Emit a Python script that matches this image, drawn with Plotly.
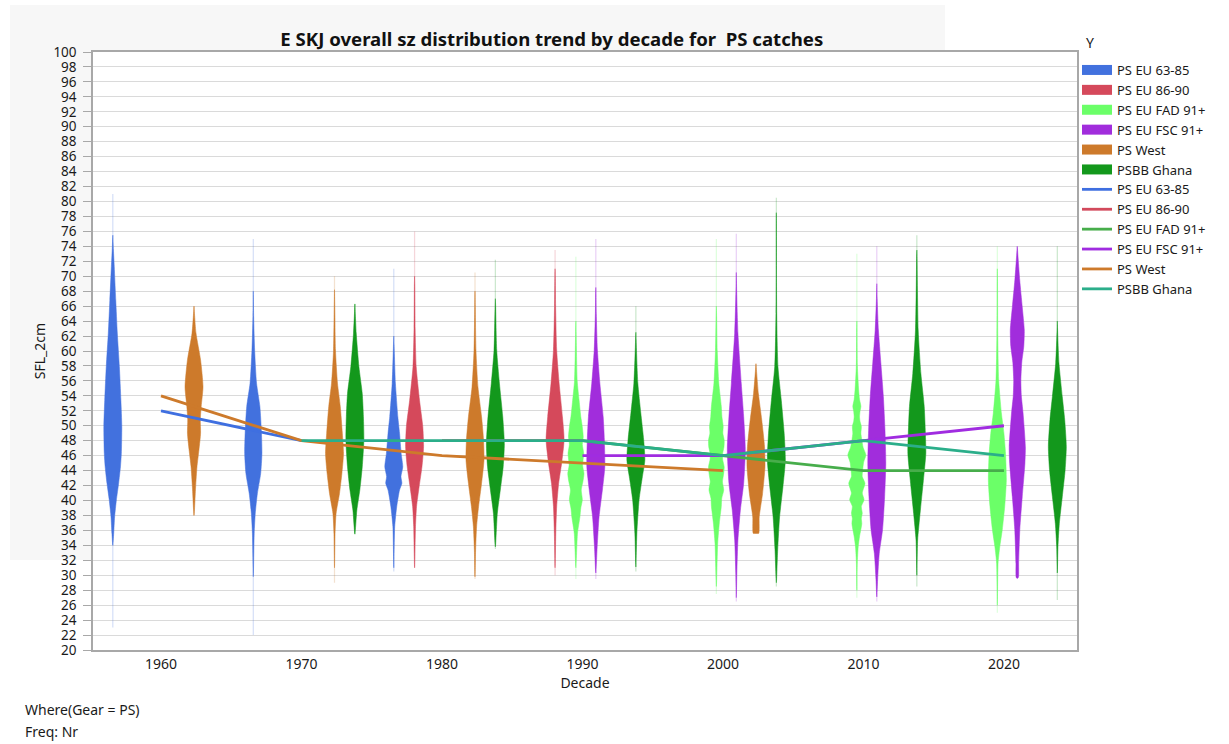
import plotly.graph_objects as go

# ---------------- data ----------------
CATEGORIES = ["PS EU 63-85", "PS EU 86-90", "PS EU FAD 91+", "PS EU FSC 91+", "PS West", "PSBB Ghana"]
DECADE_TICKS = [1960, 1970, 1980, 1990, 2000, 2010, 2020]

# violin profiles: decade -> (SFL_2cm levels, relative half-width 0..1)
PS_EU_63_85 = {
    1960: ([34, 35.6, 37.8, 40.1, 42.3, 44.5, 46.3, 49.9, 53.4, 57.9, 62.4, 66.8, 71.3, 73.5, 75.5],
           [0, 0.1, 0.2, 0.4, 0.65, 0.85, 0.95, 1.0, 0.9, 0.73, 0.5, 0.33, 0.16, 0.07, 0]),
    1970: ([29.8, 35.6, 38.3, 40.9, 43.6, 46.3, 49.0, 52.6, 55.7, 60.1, 64.6, 68],
           [0, 0.1, 0.22, 0.45, 0.82, 0.96, 0.91, 0.73, 0.36, 0.15, 0.04, 0]),
    1980: ([31, 36.5, 39.2, 41.4, 42.3, 43.2, 44.5, 46.3, 49.0, 51.2, 55.7, 61, 62],
           [0, 0.1, 0.33, 0.64, 0.9, 0.8, 1.0, 0.82, 0.64, 0.45, 0.18, 0.03, 0]),
}
PS_EU_86_90 = {
    1980: ([31, 36.5, 39.2, 41.8, 44.5, 47.2, 49.9, 53.4, 57.9, 63, 69, 70],
           [0, 0.1, 0.22, 0.5, 0.82, 1.0, 0.91, 0.55, 0.18, 0.06, 0.02, 0]),
    1990: ([31, 35.6, 39.2, 42.3, 45.0, 48.1, 51.2, 55.7, 60.1, 66, 70, 71],
           [0, 0.08, 0.18, 0.4, 0.73, 1.0, 0.82, 0.45, 0.18, 0.06, 0.02, 0]),
}
PS_EU_FAD_91 = {
    1990: ([31, 35.6, 37.8, 39.0, 40.1, 41.4, 42.5, 43.6, 44.7, 46.3, 47.5, 48.5, 50, 51.2, 52.3, 53.4, 56, 62.4, 64],
           [0, 0.18, 0.45, 0.55, 0.72, 0.6, 0.78, 0.9, 0.75, 0.87, 0.72, 0.82, 0.7, 0.55, 0.45, 0.36, 0.15, 0.03, 0]),
    2000: ([28.5, 34.3, 37.0, 39.2, 40.3, 41.4, 42.5, 43.5, 44.5, 45.5, 46.3, 47.2, 48.1, 49.0, 49.9, 51.2, 52.6, 55.7, 60, 64.6, 66],
           [0, 0.15, 0.33, 0.55, 0.6, 0.82, 0.68, 0.8, 0.87, 0.7, 0.7, 0.85, 0.87, 0.72, 0.76, 0.62, 0.55, 0.27, 0.1, 0.03, 0]),
    2010: ([28, 31.6, 33.8, 35.2, 36.9, 37.6, 38.3, 39.2, 40.1, 41.0, 42.3, 43.2, 44.1, 45.1, 46.1, 47.1, 48.1, 49.0, 49.9, 50.6, 51.2, 51.9, 52.6, 53.5, 54.8, 58, 62.8, 64],
           [0, 0.05, 0.15, 0.3, 0.55, 0.5, 0.6, 0.5, 0.8, 0.6, 0.9, 0.6, 0.65, 0.75, 1.0, 0.7, 0.55, 0.45, 0.5, 0.35, 0.3, 0.35, 0.45, 0.3, 0.2, 0.06, 0.02, 0]),
    2020: ([26, 31.6, 33.8, 36.1, 39.2, 42.7, 46.3, 49.0, 51.7, 56.1, 62, 69.5, 71],
           [0, 0.08, 0.27, 0.55, 0.82, 1.0, 0.91, 0.73, 0.45, 0.15, 0.05, 0.02, 0]),
}
PS_EU_FSC_91 = {
    1990: ([30.3, 33.8, 37.8, 41.4, 44.5, 48.1, 51.2, 55.7, 60.1, 65, 67.7, 68.5],
           [0, 0.15, 0.36, 0.73, 1.0, 0.95, 0.82, 0.45, 0.18, 0.05, 0.02, 0]),
    2000: ([27, 30.3, 34.7, 38.7, 42.3, 46.8, 51.2, 55.7, 62.4, 68, 70.5],
           [0, 0.06, 0.18, 0.45, 0.82, 1.0, 0.82, 0.55, 0.18, 0.04, 0]),
    2010: ([27.1, 29.4, 32.9, 36.1, 40.5, 45.0, 49.4, 53.9, 58.4, 62.8, 67, 69],
           [0, 0.09, 0.27, 0.64, 0.87, 1.0, 0.91, 0.73, 0.45, 0.18, 0.04, 0]),
    2020: ([29.6, 29.7, 31.6, 36.1, 40.5, 45.0, 47.2, 51.7, 54, 56.1, 58.5, 60.6, 62.8, 65.9, 69.5, 74],
           [0, 0.12, 0.15, 0.28, 0.55, 0.85, 0.9, 0.64, 0.45, 0.4, 0.5, 0.72, 0.78, 0.55, 0.27, 0]),
}
PS_WEST = {
    1960: ([38, 41.8, 44.5, 46.8, 49.0, 50.8, 52.6, 55.2, 58.8, 62.4, 66],
           [0, 0.18, 0.33, 0.55, 0.73, 0.7, 0.8, 1.0, 0.73, 0.22, 0]),
    1970: ([31, 35.6, 38.3, 40.9, 43.6, 46.3, 49.0, 52.6, 55.7, 60.1, 66, 68.2],
           [0, 0.06, 0.18, 0.55, 0.82, 1.0, 0.87, 0.64, 0.33, 0.11, 0.03, 0]),
    1980: ([29.8, 33.4, 36.5, 39.2, 42.3, 45.4, 48.1, 51.2, 55.2, 60.1, 66, 68],
           [0, 0.07, 0.18, 0.4, 0.73, 1.0, 0.95, 0.73, 0.33, 0.11, 0.03, 0]),
    2000: ([35.6, 35.6, 37.8, 40.9, 44.5, 47.2, 50.8, 54.3, 58.3],
           [0, 0.3, 0.36, 0.73, 1.0, 0.95, 0.64, 0.27, 0]),
}
PSBB_GHANA = {
    1970: ([35.5, 38.7, 41.4, 44.5, 48.1, 51.2, 54.3, 57.9, 62.4, 66.3],
           [0, 0.22, 0.55, 0.82, 1.0, 0.95, 0.82, 0.45, 0.15, 0]),
    1980: ([33.8, 38.3, 41.4, 44.5, 47.6, 51.2, 55.7, 60.1, 66, 67],
           [0, 0.22, 0.55, 0.87, 1.0, 0.82, 0.45, 0.15, 0.03, 0]),
    1990: ([31.1, 35.6, 40.1, 43.2, 45.4, 48.1, 51.7, 55.7, 61.5, 62.5],
           [0, 0.11, 0.36, 0.73, 1.0, 0.87, 0.55, 0.22, 0.03, 0]),
    2000: ([29, 33.4, 37.8, 41.8, 45.4, 49.0, 53.4, 57.9, 65, 78.5],
           [0, 0.15, 0.36, 0.73, 1.0, 0.87, 0.55, 0.18, 0.04, 0]),
    2010: ([30, 34.7, 38.3, 42.7, 46.3, 49.0, 52.6, 57.0, 62.8, 72.6, 73.5],
           [0, 0.09, 0.36, 0.73, 1.0, 0.95, 0.82, 0.45, 0.15, 0.02, 0]),
    2020: ([30.3, 33.8, 36.9, 40.5, 44.1, 47.2, 50.8, 53.9, 58.4, 62.8, 64],
           [0, 0.07, 0.22, 0.55, 0.87, 1.0, 0.82, 0.55, 0.18, 0.03, 0]),
}
PROFILES = [PS_EU_63_85, PS_EU_86_90, PS_EU_FAD_91, PS_EU_FSC_91, PS_WEST, PSBB_GHANA]

# faint tails of the density (lowest, highest value seen)
TAILS_63_85 = {1960: (23, 81), 1970: (22, 75), 1980: (30.5, 71)}
TAILS_86_90 = {1980: (31, 76), 1990: (30, 73.5)}
TAILS_FAD = {1990: (29.5, 72.6), 2000: (27.5, 75), 2010: (27, 73), 2020: (25, 74)}
TAILS_FSC = {1990: (29.5, 75), 2000: (26.5, 75.7), 2010: (26.5, 74), 2020: (29.5, 74)}
TAILS_WEST = {1960: (38, 66), 1970: (29, 70), 1980: (29.5, 70.5), 2000: (35.6, 58.3)}
TAILS_GHANA = {1970: (35.5, 66.3), 1980: (33.5, 72.2), 1990: (30.5, 66), 2000: (28.5, 80.5), 2010: (28.5, 75.5), 2020: (26.7, 74)}
TAILS = [TAILS_63_85, TAILS_86_90, TAILS_FAD, TAILS_FSC, TAILS_WEST, TAILS_GHANA]

# trend lines (median per decade)
TREND_63_85 = ([1960, 1970], [52, 48])
TREND_86_90 = ([1980, 1990], [48, 48])
TREND_FAD = ([1990, 2000, 2010, 2020], [48, 46, 44, 44])
TREND_FSC = ([1990, 2000, 2010, 2020], [46, 46, 48, 50])
TREND_WEST = ([1960, 1970, 1980, 1990, 2000], [54, 48, 46, 45, 44])
TREND_GHANA = ([1970, 1980, 1990, 2000, 2010, 2020], [48, 48, 48, 46, 48, 46])
TRENDS = [TREND_63_85, TREND_86_90, TREND_FAD, TREND_FSC, TREND_WEST, TREND_GHANA]

# ---------------- style ----------------
FILL_COLORS = ["#4271de", "#d5495b", "#6bff68", "#a12ddc", "#cd7a2b", "#13981c"]
LINE_COLORS = ["#3f6fe0", "#d24a5c", "#47ad4b", "#a02ce0", "#cd7a2b", "#2bae8a"]
SLOT_OFFSET = [-3.43, -1.95, -0.47, 0.95, 2.35, 3.8]
HALF_W = 0.64
FONT = "Noto Sans"
PLOT_L, PLOT_R, PLOT_T, PLOT_B = 93, 1077, 52, 650
PW, PH = PLOT_R - PLOT_L, PLOT_B - PLOT_T


def px(xp):
    return (xp - PLOT_L) / PW


def py(yp):
    return (PLOT_B - yp) / PH


fig = go.Figure()

# legend swatches for the violin (filled) series
for i, cat in enumerate(CATEGORIES):
    fig.add_trace(go.Scatter(x=[None], y=[None], mode="lines", name=cat,
                             line=dict(color=FILL_COLORS[i], width=14),
                             legendgroup="v" + cat, hoverinfo="skip"))

# faint tails
for i, cat in enumerate(CATEGORIES):
    for dec, (lo, hi) in TAILS[i].items():
        c = dec + SLOT_OFFSET[i]
        fig.add_trace(go.Scatter(x=[c, c], y=[lo, hi], mode="lines",
                                 line=dict(color=FILL_COLORS[i], width=1.2),
                                 opacity=0.22, showlegend=False, hoverinfo="skip"))

# violins
for i, cat in enumerate(CATEGORIES):
    for dec, (ys, ws) in PROFILES[i].items():
        c = dec + SLOT_OFFSET[i]
        xr = [c + w * HALF_W for w in ws]
        xl = [c - w * HALF_W for w in ws][::-1]
        fig.add_trace(go.Scatter(
            x=xr + xl, y=list(ys) + list(ys)[::-1], mode="lines",
            fill="toself", fillcolor=FILL_COLORS[i],
            line=dict(color=FILL_COLORS[i], width=0.5, shape="spline", smoothing=0.6),
            name=cat, legendgroup="v" + cat, showlegend=False, hoverinfo="skip"))

# trend lines
for i, cat in enumerate(CATEGORIES):
    xs, ys = TRENDS[i]
    fig.add_trace(go.Scatter(x=xs, y=ys, mode="lines", name=cat,
                             line=dict(color=LINE_COLORS[i], width=2.8),
                             legendgroup="l" + cat))

axis_line = "#a8a8a8"
fig.update_layout(
    width=1229, height=744, autosize=False,
    margin=dict(l=PLOT_L, r=1229 - PLOT_R, t=PLOT_T, b=744 - PLOT_B),
    paper_bgcolor="white", plot_bgcolor="rgba(0,0,0,0)",
    font=dict(family=FONT, size=14, color="#1a1a1a"),
    title=dict(text="<b>E SKJ overall sz distribution trend by decade for  PS catches</b>",
               x=0.449, xanchor="center", y=1 - 39 / 744, yanchor="middle",
               font=dict(family=FONT, size=18.6, color="#111")),
    xaxis=dict(range=[1955.16, 2025.2], tickvals=DECADE_TICKS, showgrid=False,
               zeroline=False, showline=True, mirror=True, linecolor=axis_line, linewidth=1.5,
               ticks="", tickfont=dict(size=14),
               title=dict(text="Decade", font=dict(size=14), standoff=6)),
    yaxis=dict(range=[20, 100], dtick=2, tick0=20, showgrid=True, gridcolor="#dadada",
               gridwidth=1.3, zeroline=False, showline=True, mirror=True, linecolor=axis_line,
               linewidth=1.5, ticks="outside", ticklen=8, tickcolor=axis_line,
               ticklabelstandoff=4, tickfont=dict(size=13.5),
               title=dict(text="SFL_2cm", font=dict(size=14), standoff=4)),
    legend=dict(x=1.0, xanchor="left", y=py(55), yanchor="top", font=dict(size=13),
                tracegroupgap=0, itemwidth=30, bgcolor="rgba(0,0,0,0)"),
    shapes=[
        dict(type="rect", xref="paper", yref="paper", x0=px(10), x1=px(945), y0=py(560), y1=py(5),
             fillcolor="#f7f7f7", line=dict(width=0), layer="below"),
        dict(type="rect", xref="paper", yref="paper", x0=0, x1=1, y0=0, y1=1,
             fillcolor="white", line=dict(width=0), layer="below"),
    ],
    annotations=[
        dict(text="Y", xref="paper", yref="paper", x=px(1084), y=py(42),
             xanchor="left", yanchor="middle", showarrow=False, font=dict(size=14)),
        dict(text="Where(Gear = PS)", xref="paper", yref="paper", x=px(23),
             y=py(709), xanchor="left", yanchor="middle", showarrow=False,
             font=dict(size=14)),
        dict(text="Freq: Nr", xref="paper", yref="paper", x=px(23),
             y=py(731), xanchor="left", yanchor="middle", showarrow=False,
             font=dict(size=14)),
    ],
)

fig.write_html("out.html")
